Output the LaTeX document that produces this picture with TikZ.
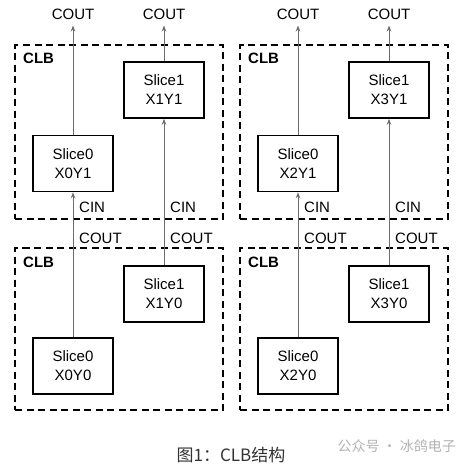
\documentclass[tikz,border=0pt]{standalone}
\usepackage{fontspec}
\setmainfont{Liberation Sans}
\newfontfamily\cjk{Noto Sans CJK SC}
\usetikzlibrary{arrows.meta}
\tikzset{>=stealth,
  slice/.style={draw,line width=1.6pt,minimum width=80pt,minimum height=56pt,inner sep=0pt,
    align=center,font=\fontsize{15}{19}\selectfont},
  clb/.style={draw,line width=1.4pt,dash pattern=on 7pt off 4.5pt,minimum width=208pt,minimum height=174pt},
  carry/.style={line width=0.9pt,gray!85!black,-{Stealth[length=6pt,width=4.5pt]}},
  lbl/.style={font=\fontsize{15}{17}\selectfont,inner sep=2pt}}

\begin{document}
\begin{tikzpicture}[x=1pt,y=-1pt]
    \useasboundingbox (0,0) rectangle (465,466);
    % dashed CLB frames
    \node[clb] at (119,132)   (clb0) {};
    \node[clb,minimum height=162pt] at (119,329)   (clb1) {};
    \node[clb] at (344,132)   (clb2) {};
    \node[clb,minimum height=162pt] at (344,329)   (clb3) {};
    \node[lbl,font=\fontsize{15}{17}\bfseries,anchor=west] at (21,58)    (n0) {CLB};
    \node[lbl,font=\fontsize{15}{17}\bfseries,anchor=west] at (21,262)   (n1) {CLB};
    \node[lbl,font=\fontsize{15}{17}\bfseries,anchor=west] at (246,58)   (n2) {CLB};
    \node[lbl,font=\fontsize{15}{17}\bfseries,anchor=west] at (246,262)  (n3) {CLB};
    % slices
    \node[slice] at (73,163.5)   (s01) {Slice0\\X0Y1};
    \node[slice] at (164,90)     (s11) {Slice1\\X1Y1};
    \node[slice] at (164,294)    (s10) {Slice1\\X1Y0};
    \node[slice] at (73,366)     (s00) {Slice0\\X0Y0};
    \node[slice] at (298,163.5)  (s21) {Slice0\\X2Y1};
    \node[slice] at (389,90)     (s31) {Slice1\\X3Y1};
    \node[slice] at (389,294)    (s30) {Slice1\\X3Y0};
    \node[slice] at (298,366)    (s20) {Slice0\\X2Y0};
    % carry labels
    \node[lbl] at (73,14)    (t0) {COUT};
    \node[lbl] at (164,14)   (t1) {COUT};
    \node[lbl] at (298,14)   (t2) {COUT};
    \node[lbl] at (389,14)   (t3) {COUT};
    \node[lbl,anchor=west] at (77,207)    (ci0) {CIN};
    \node[lbl,anchor=west] at (168,207)   (ci1) {CIN};
    \node[lbl,anchor=west] at (302,207)   (ci2) {CIN};
    \node[lbl,anchor=west] at (393,207)   (ci3) {CIN};
    \node[lbl,anchor=west] at (77,238.5)  (co0) {COUT};
    \node[lbl,anchor=west] at (168,238.5) (co1) {COUT};
    \node[lbl,anchor=west] at (302,238.5) (co2) {COUT};
    \node[lbl,anchor=west] at (393,238.5) (co3) {COUT};
    % carry chain
    \draw[carry,shorten >=4pt] (s01)--(t0);
    \draw[carry,shorten >=4pt] (s11)--(t1);
    \draw[carry,shorten >=4pt] (s21)--(t2);
    \draw[carry,shorten >=4pt] (s31)--(t3);
    \draw[carry] (s00)--(s01);
    \draw[carry] (s10)--(s11);
    \draw[carry] (s20)--(s21);
    \draw[carry] (s30)--(s31);
    % caption
    \node[font=\cjk\fontsize{17}{19}\selectfont,text=black!80] at (231,455)   (cap) {图1：CLB结构};
    \node[font=\cjk\fontsize{14}{16}\selectfont,text=black!30,anchor=west] at (334,446)   (wm) {公众号 · 冰鸽电子};
\end{tikzpicture}
\end{document}
